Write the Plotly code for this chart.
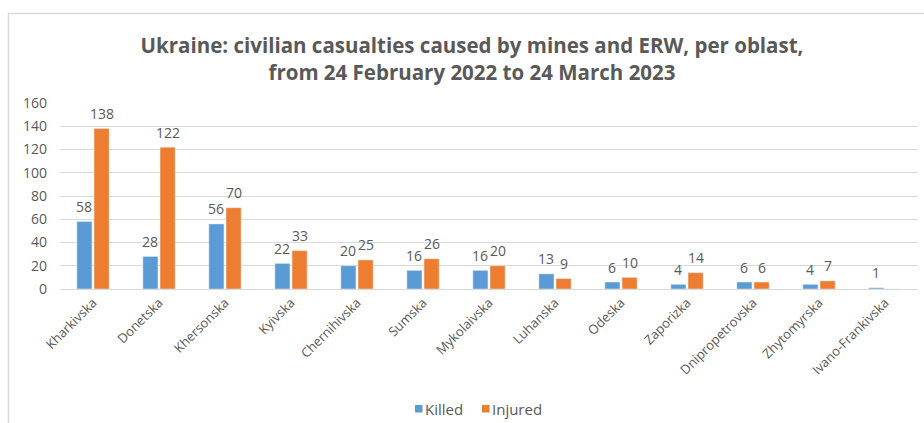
import plotly.graph_objects as go

# Civilian casualties from mines and ERW, by oblast
oblasts = ["Kharkivska", "Donetska", "Khersonska", "Kyivska", "Chernihivska",
           "Sumska", "Mykolaivska", "Luhanska", "Odeska", "Zaporizka",
           "Dnipropetrovska", "Zhytomyrska", "Ivano-Frankivska"]
killed = [58, 28, 56, 22, 20, 16, 16, 13, 6, 4, 6, 4, 1]
injured = [138, 122, 70, 33, 25, 26, 20, 9, 10, 14, 6, 7, 0]
y_ticks = [0, 20, 40, 60, 80, 100, 120, 140, 160]

TEXT = "#595959"
FONT = "'Open Sans', Lato, sans-serif"

W, H = 924, 423
L, R, T, B = 60, 6, 103, 134
pw, ph = W - L - R, H - T - B
BARGAP, GROUPGAP = 0.48, 0.12


def px_x(p):
    return (p - L) / pw


def px_y(p):
    return (H - B - p) / ph


fig = go.Figure()
series = [("Killed", killed, "#5B9BD5"), ("Injured", injured, "#ED7D31")]
for name, vals, color in series:
    fig.add_trace(go.Bar(name=name, x=oblasts, y=vals, marker_color=color,
                         showlegend=False))

# value labels above each bar, offset to the bar's slot within its group
cat_px = pw / len(oblasts)
slot_px = cat_px * (1 - BARGAP) / len(series)
annotations = []
for i, (name, vals, color) in enumerate(series):
    dx = (i - (len(series) - 1) / 2) * slot_px
    for cat, v in zip(oblasts, vals):
        if v:
            annotations.append(dict(
                x=cat, y=v, xref="x", yref="y", text=str(v),
                showarrow=False, xshift=dx, yshift=15, yanchor="middle",
                font=dict(size=14, color=TEXT, family=FONT),
            ))

# compact legend below the plot: small square swatch followed by its name
shapes = [dict(
    type="rect", xref="paper", yref="paper",
    x0=px_x(8.5), x1=px_x(940), y0=px_y(440), y1=px_y(13.5),
    line=dict(color="#D9D9D9", width=1.5), fillcolor="rgba(0,0,0,0)",
    layer="below",
)]
legend_x = [415, 482]
for (name, vals, color), lx in zip(series, legend_x):
    shapes.append(dict(
        type="rect", xref="paper", yref="paper",
        x0=px_x(lx), x1=px_x(lx + 7.5), y0=px_y(412.5), y1=px_y(405),
        line=dict(width=0), fillcolor=color,
    ))
    annotations.append(dict(
        x=px_x(lx + 8), y=px_y(409), xref="paper", yref="paper",
        text=name, showarrow=False, xanchor="left", yanchor="middle",
        font=dict(size=15, color=TEXT, family=FONT),
    ))

fig.update_layout(
    width=W, height=H,
    margin=dict(l=L, r=R, t=T, b=B, autoexpand=False),
    paper_bgcolor="white", plot_bgcolor="white",
    font=dict(family=FONT, color=TEXT),
    barmode="group", bargap=BARGAP, bargroupgap=GROUPGAP,
    title=dict(
        text="Ukraine: civilian casualties caused by mines and ERW, per oblast,<br>from 24 February 2022 to 24 March 2023",
        x=472 / W, xanchor="center", y=1 - 53 / H, yanchor="top",
        font=dict(size=20.5, color=TEXT, family=FONT, weight="bold"),
    ),
    showlegend=False,
    annotations=annotations,
    shapes=shapes,
)

fig.update_xaxes(
    tickangle=-45, tickfont=dict(size=13, color=TEXT),
    showline=True, linecolor="#D9D9D9", linewidth=1,
    showgrid=False, ticks="", automargin=False,
)
fig.update_yaxes(
    range=[0, 160], tickvals=y_ticks, ticktext=[str(v) for v in y_ticks],
    tickfont=dict(size=14, color=TEXT),
    showgrid=True, gridcolor="#D9D9D9", gridwidth=1,
    zeroline=False, showline=False, ticks="", ticklabelstandoff=12,
    automargin=False,
)

fig.write_html("out.html")
